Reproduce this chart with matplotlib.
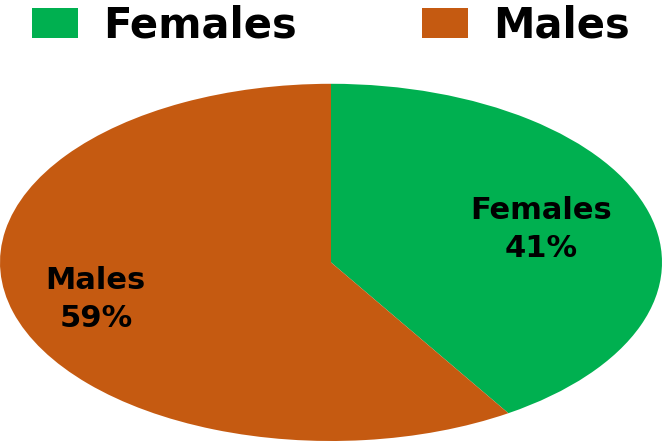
import matplotlib.pyplot as plt
import numpy as np

labels = ["Females", "Males"]
shares = [41, 59]
colors = ["#00B050", "#C55A11"]

fig = plt.figure(figsize=(6.62, 4.41), dpi=100)
ax = fig.add_axes([0, 0.0, 1, 0.81])

wedges, _ = ax.pie(shares, colors=colors, startangle=90, counterclock=False,
                   radius=1, wedgeprops=dict(linewidth=0))
ax.set_aspect("auto")
ax.set_xlim(-1, 1)
ax.set_ylim(-1, 1)
ax.axis("off")

# labels inside each slice
label_r = [0.66, 0.74]
for w, lab, s, r in zip(wedges, labels, shares, label_r):
    ang = np.deg2rad((w.theta1 + w.theta2) / 2)
    ax.text(r * np.cos(ang), r * np.sin(ang), f"{lab}\n{s}%",
            ha="center", va="center", fontsize=22, fontweight="bold",
            linespacing=1.4, color="black")

fig.legend(wedges, labels, loc="upper center", bbox_to_anchor=(0.5, 1.075),
           ncol=2, frameon=False, prop=dict(size=30, weight="bold"),
           handlelength=1.1, handleheight=0.75, handletextpad=0.6,
           columnspacing=3.0)

fig.savefig("out.png", dpi=100)
